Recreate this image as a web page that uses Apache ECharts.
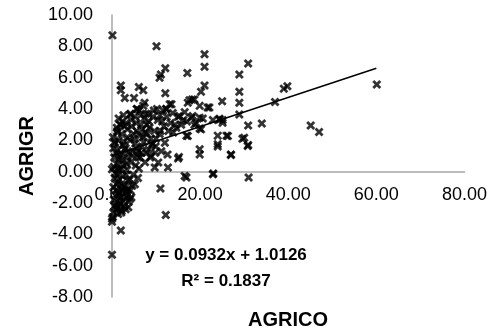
<!DOCTYPE html>
<html>
<head>
<meta charset="utf-8">
<script src="https://cdn.jsdelivr.net/npm/echarts@6/dist/echarts.min.js"></script>
<style>
  html, body { margin: 0; padding: 0; background: #fff; }
  #chart { width: 490px; height: 335px; }
</style>
</head>
<body>
<div id="chart"></div>
<script>
// AGRICO (x) vs AGRIGR (y)
var agrico = [
  0.1, 10.1, 12.1, 11.1, 10.8, 17.1, 21, 21, 21, 20.2, 28.9, 30.9, 28.9, 28.9, 28.9, 30.9, 34.0,
  2.0, 2.0, 6.1, 7.1, 2.9, 5.0, 7.4, 12.1, 17.2, 18.2, 19.9, 22.1, 25, 13.1, 12.3, 4.1, 5.6,
  1.8, 16.9, 19.9, 19.9, 24, 26, 24, 27, 29.6, 30.9, 15, 10.5, 22.9, 25.1, 19.1, 20.6, 18.3,
  15.3, 15.7, 13.8, 12, 39, 39.8, 37, 24.4, 20.2, 45.1, 47, 60.1, 23, 31,
  0, 12.2, 11, 16.9, 0, 0, 0, 4.1, 2.0, 5.2, 2.2, 1.4, 3.3, 4.4, 1.8, 1.0, 3.7, 2.2,
  18.7, 17.6, 21.7, 18, 19.9, 24.4, 25.1, 18.7, 19.9, 17.2, 26.3, 24, 30, 30.8, 27, 15.2,
  0.2, 0.3, 0.5, 0.4, 0.6, 0.3, 0.8, 0.5, 0.2, 0.7, 0.9, 1.0, 0.8, 1.0,
  1.2, 1.5, 1.3, 1.6, 1.4, 1.7, 1.4, 1.8, 1.1, 1.9, 1.5, 2.0, 1.8, 1.2,
  2.2, 2.5, 2.3, 2.7, 2.4, 2.6, 2.2, 2.8, 2.1, 2.9, 2.6, 2.3, 2.8,
  3.2, 3.5, 3.1, 3.6, 3.4, 3.7, 3.3, 3.8, 3.5, 3.9, 3.2,
  4.2, 4.5, 4.1, 4.7, 4.3, 4.8, 4.6, 4.4, 4.9,
  5.2, 5.6, 5.3, 5.8, 5.4, 5.9, 5.7, 5.5,
  6.2, 6.6, 6.3, 6.8, 6.4, 6.1, 6.9, 6.5,
  7.3, 7.6, 7.2, 7.8, 7.5, 7.1, 7.9,
  8.2, 8.5, 8.8, 8.3, 8.7, 8.4,
  9.3, 9.6, 9.2, 9.8, 9.5, 9.7,
  10.4, 10.8, 10.2, 10.9, 11.4, 11.8, 11.6, 12.4, 12.7, 12.8, 12.3,
  13.5, 13.3, 13.9, 14.3, 15, 16.2, 14.6, 16.5, 17.0, 16.5, 22.9,
  0.4, 0.9, 1.3, 1.7, 2.4, 3.0, 3.6, 4.0, 0.6, 1.1, 1.6, 2.1, 2.7, 3.3,
  0.3, 0.9, 1.4, 2.0, 2.6, 3.1, 3.6, 4.2, 1.2, 2.4, 5.0, 6.0, 7.0, 8.0,
  9.0, 10.0, 11.0, 5.5, 6.7, 7.7, 8.9, 9.9, 11.2, 12.6, 4.6, 6.0
];
var agrigr = [
  8.7, 8.0, 6.6, 6.2, 6.0, 6.3, 7.5, 6.7, 5.5, 5.1, 6.2, 6.9, 5.1, 4.4, 3.65, 2.95, 3.08,
  5.5, 5.2, 5.4, 5.2, 4.7, 4.7, 4.4, 5.0, 4.4, 4.6, 4.2, 4.1, 4.5, 4.3, 4.0, 3.65, 4.0,
  3.0, 2.3, 1.43, 1.1, 2.3, 2.3, 1.6, 1.1, 2.1, 1.7, 0.84, 0.58, 3.3, 3.3, 3.1, 3.4, 3.55,
  3.55, 3.0, 3.75, 1.85, 5.3, 5.45, 4.45, 3.38, 2.7, 2.95, 2.53, 5.56, -0.12, -0.37,
  -5.3, -2.76, -1.07, -0.37, -3.0, -3.2, 0.16, -1.75, -3.75, -0.8, -0.8, -1.43, -1.64, -1.64, -2.06, -2.27, -2.27, -2.49,
  4.6, 4.56, 4.1, 3.44, 3.44, 3.33, 3.12, 3.0, 2.76, 2.27, 2.27, 1.75, 2.17, 1.64, 1.07, 0.94,
  2.2, 1.5, 0.9, 0.3, -0.4, -1.0, -1.5, -2.2, -2.9, 1.8, 1.2, 0.5, -0.1, -0.8,
  2.6, 2.0, 1.4, 0.8, 0.2, -0.5, -1.4, -2.0, -2.4, 3.0, 3.4, -1.1, 1.0, -0.2,
  2.4, 1.7, 1.1, 0.4, -0.3, -0.9, -1.6, -2.2, -2.6, 2.9, 3.6, 0.7, 1.4,
  3.1, 2.2, 1.5, 0.9, 0.1, -0.6, -1.3, -1.9, 2.7, 1.2, -0.2,
  3.7, 2.9, 2.0, 1.3, 0.6, -0.2, -0.9, 3.3, 2.4,
  3.5, 2.6, 1.8, 1.1, 0.4, -0.4, 4.0, 3.1,
  3.9, 3.0, 2.3, 1.6, 0.9, 0.2, 2.7, 3.6,
  3.4, 2.5, 1.9, 1.2, 0.6, 4.2, 3.0,
  3.7, 2.8, 2.1, 1.4, 0.9, 3.2,
  3.5, 2.6, 1.8, 1.2, 3.9, 0.27,
  3.3, 2.4, 4.0, 3.6, 3.2, 2.9, 3.9, 3.5, 0.27, 2.6, 4.0,
  4.3, 3.1, 2.5, 3.0, 3.5, 3.3, 2.8, 3.8, 3.2, -0.27, -0.16,
  -1.8, -1.2, -0.7, -1.7, -1.3, -1.0, -1.5, -0.5, 1.9, 2.8, 0.1, 0.2, 1.9, 0.5,
  -2.6, -2.1, -2.7, -2.4, -1.9, -2.4, -1.1, -1.2, 2.5, 3.2, 2.1, 1.3, 2.2, 2.4,
  1.7, 2.1, 2.6, 1.5, 1.2, 3.7, 1.0, 1.6, 1.3, 1.1, 1.0, 0.9
];
var xTicks = [0, 20, 40, 60, 80];
var yTicks = [-8, -6, -4, -2, 0, 2, 4, 6, 8, 10];
var slope = 0.0932;
var intercept = 1.0126;
var trendRange = [0, 60];

var points = [];
for (var i = 0; i < agrico.length; i++) {
    points.push([agrico[i], agrigr[i]]);
}
var trend = trendRange.map(function (x) {
    return [x, intercept + slope * x];
});

var font = 'Liberation Sans';
var xMark = 'path://M0,2.2L2.2,0L5,2.8L7.8,0L10,2.2L7.2,5L10,7.8L7.8,10L5,7.2L2.2,10L0,7.8L2.8,5Z';

// x axis sits on y = 0: shift it up from the bottom of the grid
var gridTop = 15, gridBottom = 38, chartH = 335;
var plotH = chartH - gridTop - gridBottom;
var zeroShift = plotH * (0 - yTicks[0]) / (yTicks[yTicks.length - 1] - yTicks[0]);

var myChart = echarts.init(document.getElementById('chart'));
var option = {
    animation: false,
    grid: {left: 112, right: 23, top: gridTop, bottom: gridBottom},
    xAxis: {
        type: 'value',
        min: xTicks[0],
        max: xTicks[xTicks.length - 1],
        interval: 20,
        offset: -zeroShift,
        axisLine: {onZero: false, lineStyle: {color: '#a6a6a6', width: 1.5}},
        axisTick: {show: false},
        splitLine: {show: false},
        axisLabel: {
            margin: 14,
            color: '#000',
            fontFamily: font,
            fontSize: 18,
            formatter: function (v) { return v.toFixed(2); }
        }
    },
    yAxis: {
        type: 'value',
        min: yTicks[0],
        max: yTicks[yTicks.length - 1],
        interval: 2,
        name: 'AGRIGR',
        nameLocation: 'middle',
        nameGap: 72,
        nameRotate: 90,
        nameTextStyle: {color: '#000', fontFamily: font, fontSize: 20, fontWeight: 'bold'},
        axisLine: {show: true, onZero: false, lineStyle: {color: '#a6a6a6', width: 1.5}},
        axisTick: {show: false},
        splitLine: {show: false},
        axisLabel: {
            margin: 19,
            color: '#000',
            fontFamily: font,
            fontSize: 18,
            formatter: function (v) { return v.toFixed(2); }
        }
    },
    series: [
        {
            type: 'scatter',
            data: points,
            symbol: xMark,
            symbolSize: 9,
            itemStyle: {color: '#000'}
        },
        {
            type: 'line',
            data: trend,
            showSymbol: false,
            symbol: 'none',
            lineStyle: {color: '#000', width: 1.5}
        }
    ],
    graphic: [
        {
            type: 'text', x: 226, y: 255,
            style: {
                text: 'y = 0.0932x + 1.0126', fill: '#000',
                font: 'bold 17px ' + font, textAlign: 'center', textVerticalAlign: 'middle'
            }
        },
        {
            type: 'text', x: 226, y: 281,
            style: {
                text: 'R² = 0.1837', fill: '#000',
                font: 'bold 17px ' + font, textAlign: 'center', textVerticalAlign: 'middle'
            }
        },
        {
            type: 'text', x: 288, y: 320,
            style: {
                text: 'AGRICO', fill: '#000',
                font: 'bold 20px ' + font, textAlign: 'center', textVerticalAlign: 'middle'
            }
        }
    ]
};
myChart.setOption(option);
</script>
</body>
</html>
